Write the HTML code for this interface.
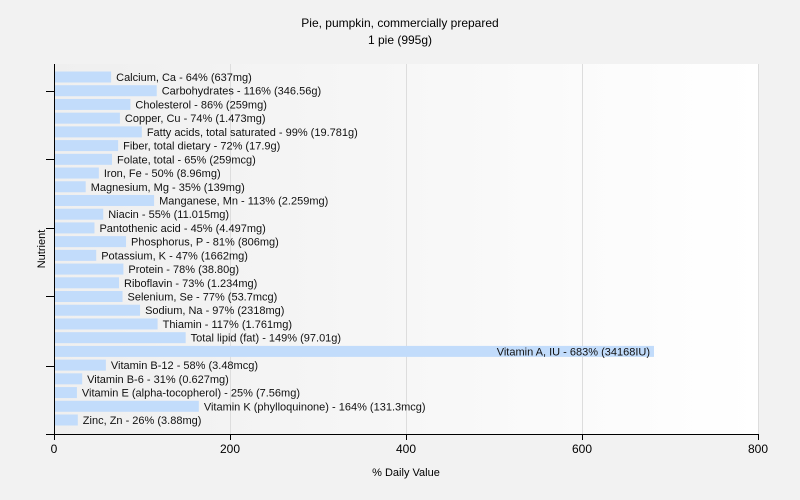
<!DOCTYPE html>
<html><head><meta charset="utf-8"><style>
html,body{margin:0;padding:0;background:#f2f2f2;}
svg{display:block;font-family:"Liberation Sans",sans-serif;}
</style></head><body>
<svg width="800" height="500" viewBox="0 0 800 500" xmlns="http://www.w3.org/2000/svg">
<defs><linearGradient id="g" x1="0" x2="1" y1="0" y2="0"><stop offset="0" stop-color="#efefef"/><stop offset="1" stop-color="#ffffff"/></linearGradient></defs>
<rect width="800" height="500" fill="#f2f2f2"/>
<rect x="54" y="64" width="705" height="370" fill="url(#g)"/>
<g stroke="#dddddd" stroke-width="1">
<line x1="230.5" y1="64" x2="230.5" y2="434"/><line x1="406.5" y1="64" x2="406.5" y2="434"/><line x1="582.5" y1="64" x2="582.5" y2="434"/><line x1="758.5" y1="64" x2="758.5" y2="434"/>
</g>
<text x="400" y="27" font-size="12" text-anchor="middle">Pie, pumpkin, commercially prepared</text>
<text x="400" y="44" font-size="12" text-anchor="middle">1 pie (995g)</text>
<g fill="#c2dcfb" id="bars"></g>
<g font-size="11" fill="#111" id="labels"></g>
<g stroke="#000" stroke-width="1">
<line x1="54.5" y1="64" x2="54.5" y2="434"/>
<line x1="46" y1="434.5" x2="759" y2="434.5"/>
<line x1="46" y1="91.5" x2="54" y2="91.5"/><line x1="46" y1="159.5" x2="54" y2="159.5"/><line x1="46" y1="228.5" x2="54" y2="228.5"/><line x1="46" y1="296.5" x2="54" y2="296.5"/><line x1="46" y1="366.5" x2="54" y2="366.5"/>
<line x1="54.5" y1="434" x2="54.5" y2="440"/><line x1="230.5" y1="434" x2="230.5" y2="440"/><line x1="406.5" y1="434" x2="406.5" y2="440"/><line x1="582.5" y1="434" x2="582.5" y2="440"/><line x1="758.5" y1="434" x2="758.5" y2="440"/>
</g>
<g font-size="12" text-anchor="middle">
<text x="54" y="453">0</text><text x="230" y="453">200</text><text x="406" y="453">400</text><text x="582" y="453">600</text><text x="758" y="453">800</text>
</g>
<text x="406" y="476" font-size="11" text-anchor="middle">% Daily Value</text>
<text transform="translate(45,249) rotate(-90)" font-size="11" text-anchor="middle">Nutrient</text>
<script>
var d=[["Calcium, Ca - 64% (637mg)",64],["Carbohydrates - 116% (346.56g)",116],["Cholesterol - 86% (259mg)",86],["Copper, Cu - 74% (1.473mg)",74],["Fatty acids, total saturated - 99% (19.781g)",99],["Fiber, total dietary - 72% (17.9g)",72],["Folate, total - 65% (259mcg)",65],["Iron, Fe - 50% (8.96mg)",50],["Magnesium, Mg - 35% (139mg)",35],["Manganese, Mn - 113% (2.259mg)",113],["Niacin - 55% (11.015mg)",55],["Pantothenic acid - 45% (4.497mg)",45],["Phosphorus, P - 81% (806mg)",81],["Potassium, K - 47% (1662mg)",47],["Protein - 78% (38.80g)",78],["Riboflavin - 73% (1.234mg)",73],["Selenium, Se - 77% (53.7mcg)",77],["Sodium, Na - 97% (2318mg)",97],["Thiamin - 117% (1.761mg)",117],["Total lipid (fat) - 149% (97.01g)",149],["Vitamin A, IU - 683% (34168IU)",683],["Vitamin B-12 - 58% (3.48mcg)",58],["Vitamin B-6 - 31% (0.627mg)",31],["Vitamin E (alpha-tocopherol) - 25% (7.56mg)",25],["Vitamin K (phylloquinone) - 164% (131.3mcg)",164],["Zinc, Zn - 26% (3.88mg)",26]];
var ns="http://www.w3.org/2000/svg",b=document.getElementById("bars"),l=document.getElementById("labels");
d.forEach(function(r,i){var c=77+i*13.72,w=r[1]*0.877;
var e=document.createElementNS(ns,"rect");e.setAttribute("x",55);e.setAttribute("y",c-5.5);e.setAttribute("width",w);e.setAttribute("height",11);b.appendChild(e);
var t=document.createElementNS(ns,"text");t.textContent=r[0];t.setAttribute("y",c+4);
if(r[1]>600){t.setAttribute("x",55+w-4);t.setAttribute("text-anchor","end");}else{t.setAttribute("x",55+w+5);}
l.appendChild(t);});
</script>
</svg>
</body></html>
